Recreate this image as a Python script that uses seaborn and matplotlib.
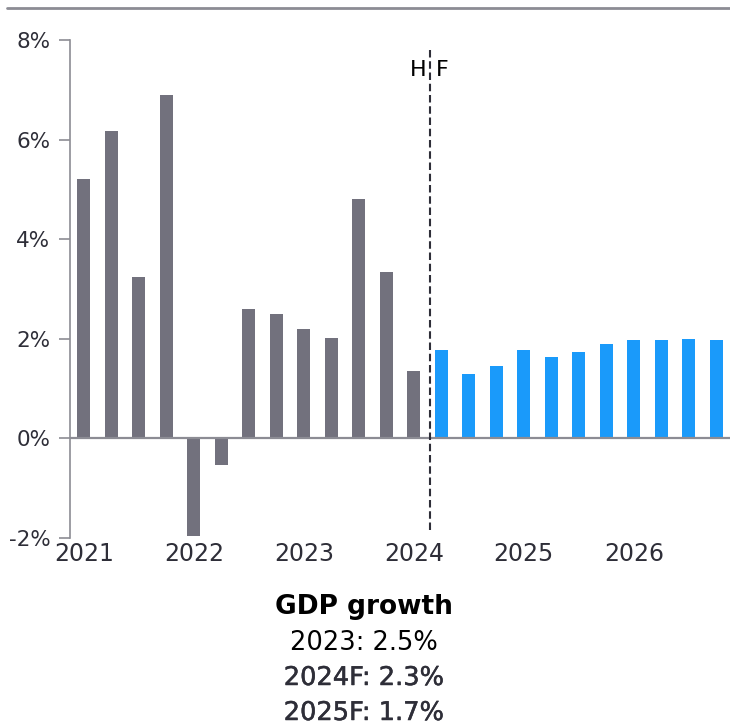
import matplotlib
matplotlib.use("Agg")
import matplotlib.pyplot as plt
import matplotlib.patheffects as pe
import seaborn as sns
import pandas as pd
from matplotlib.lines import Line2D

# Quarterly GDP growth (annualised, %), history then forecast
quarters = [f"{y}Q{q}" for y in range(2021, 2027) for q in range(1, 5)]
history = [5.2, 6.17, 3.25, 6.9, -1.96, -0.54, 2.6, 2.5, 2.2, 2.02, 4.8, 3.34, 1.35]
forecast = [1.78, 1.29, 1.45, 1.77, 1.64, 1.73, 1.9, 1.97, 1.97, 1.99, 1.97]
phase = ["History"] * len(history) + ["Forecast"] * len(forecast)

year_ticks = [0, 4, 8, 12, 16, 20]
year_labels = ["2021", "2022", "2023", "2024", "2025", "2026"]
y_ticks = [-2, 0, 2, 4, 6, 8]
y_labels = ["-2%", "0%", "2%", "4%", "6%", "8%"]

summary_title = "GDP growth"
summary_lines = ["2023: 2.5%", "2024F: 2.3%", "2025F: 1.7%"]

GREY = "#72717D"
BLUE = "#1A9AFA"
AXIS = "#8C8C94"
TEXT = "#2E2E38"

df = pd.DataFrame({"quarter": quarters, "growth": history + forecast, "phase": phase})

sns.set_theme(style="white")
plt.rcParams["font.family"] = ["DejaVu Sans"]

fig = plt.figure(figsize=(7.3, 7.26), dpi=100)
ax = fig.add_axes([70 / 730, 1 - 538 / 726, 660 / 730, 498 / 726])

sns.barplot(data=df, x="quarter", y="growth", hue="phase", order=quarters,
            palette={"History": GREY, "Forecast": BLUE}, dodge=False,
            width=0.48, legend=False, ax=ax, saturation=1, linewidth=0)

ax.set_xlim(-0.5, len(quarters) - 0.5)
ax.set_ylim(-2, 8)
ax.set_xlabel("")
ax.set_ylabel("")

# zero line and history/forecast divider
ax.axhline(0, color=AXIS, lw=1.6, zorder=1)
ax.plot([12.6, 12.6], [-1.84, 7.86], ls=(0, (3.6, 1.8)), color=TEXT, lw=1.5, clip_on=False)
ax.text(12.45, 7.4, "H", ha="right", va="center", fontsize=16, color="black")
ax.text(12.8, 7.4, "F", ha="left", va="center", fontsize=16, color="black")

for s in ["top", "right", "bottom"]:
    ax.spines[s].set_visible(False)
ax.spines["left"].set_color(AXIS)
ax.spines["left"].set_linewidth(1.2)

ax.set_yticks(y_ticks)
ax.set_yticklabels(y_labels, fontsize=15.5, color=TEXT)
ax.tick_params(axis="y", direction="out", length=8, width=1.2, color=AXIS, pad=6, left=True)
ax.set_xticks(year_ticks)
ax.set_xticklabels(year_labels, fontsize=17, color=TEXT)
ax.tick_params(axis="x", length=0, pad=3, bottom=False)

# rule across the top of the panel
fig.add_artist(Line2D([7 / 730, 1.0], [1 - 8 / 726, 1 - 8 / 726], color=AXIS, lw=2))

# annual summary beneath the chart
cx = 364 / 730
fig.text(cx, 1 - 607 / 726, summary_title, ha="center", va="center",
         fontsize=19, fontweight="bold", color="black")
fig.text(cx, 1 - 643 / 726, summary_lines[0], ha="center", va="center",
         fontsize=18.5, color="black")
medium = [pe.withStroke(linewidth=0.35, foreground=TEXT)]
fig.text(cx, 1 - 678 / 726, summary_lines[1], ha="center", va="center",
         fontsize=18.5, color=TEXT, path_effects=medium)
fig.text(cx, 1 - 713 / 726, summary_lines[2], ha="center", va="center",
         fontsize=18.5, color=TEXT, path_effects=medium)

fig.savefig("out.png", dpi=100)
